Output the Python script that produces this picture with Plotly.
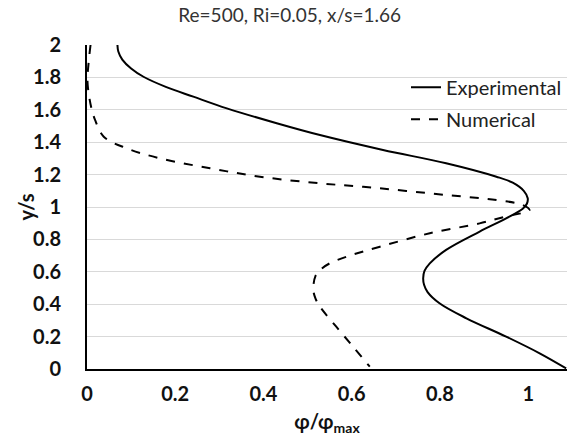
import plotly.graph_objects as go

# Experimental profile (solid)
exp_x = [0.069, 0.071, 0.080, 0.100, 0.128, 0.180, 0.241, 0.317, 0.430, 0.528, 0.671, 0.814,
         0.928, 0.965, 0.990, 0.999, 0.997, 0.987, 0.950, 0.890, 0.814, 0.777, 0.765, 0.762,
         0.764, 0.772, 0.799, 0.860, 0.950, 1.026, 1.086]
exp_y = [2.000, 1.960, 1.910, 1.855, 1.804, 1.740, 1.681, 1.609, 1.517, 1.444, 1.352, 1.270,
         1.187, 1.150, 1.100, 1.054, 1.020, 0.988, 0.930, 0.848, 0.735, 0.652, 0.605, 0.560,
         0.520, 0.475, 0.406, 0.313, 0.200, 0.097, 0.004]

# Numerical profile (dashed)
num_x = [0.008, 0.004, 0.001, 0.005, 0.011, 0.018, 0.038, 0.090, 0.166, 0.279, 0.392, 0.528,
         0.626, 0.814, 0.928, 0.988, 1.003, 0.985, 0.955, 0.890, 0.777, 0.664, 0.588, 0.550,
         0.530, 0.518, 0.513, 0.518, 0.528, 0.565, 0.603, 0.641]
num_y = [2.000, 1.900, 1.780, 1.680, 1.600, 1.540, 1.434, 1.362, 1.300, 1.239, 1.187, 1.146,
         1.125, 1.074, 1.043, 1.012, 0.981, 0.962, 0.945, 0.899, 0.838, 0.755, 0.693, 0.652,
         0.615, 0.575, 0.488, 0.435, 0.385, 0.261, 0.138, 0.014]

x_ticks = [0, 0.2, 0.4, 0.6, 0.8, 1]
y_ticks = [0, 0.2, 0.4, 0.6, 0.8, 1, 1.2, 1.4, 1.6, 1.8, 2]

fig = go.Figure()
fig.add_trace(go.Scatter(x=exp_x, y=exp_y, mode="lines", name="Experimental",
                         line=dict(color="black", width=2, shape="spline", smoothing=1.0),
                         legendgroup="a"))
fig.add_trace(go.Scatter(x=num_x, y=num_y, mode="lines", name="Numerical",
                         line=dict(color="black", width=2, dash="dash", shape="spline", smoothing=1.0),
                         legendgroup="b"))

fig.update_layout(
    width=568, height=445,
    margin=dict(l=87, r=1, t=45, b=76),
    paper_bgcolor="white", plot_bgcolor="white",
    font=dict(family="Lato", color="black"),
    title=dict(text="Re=500, Ri=0.05, x/s=1.66", x=0.51, xanchor="center", y=0.965, yanchor="middle",
               font=dict(family="Lato", size=19, color="#333333")),
    legend=dict(x=1.0, y=0.93, xanchor="right", yanchor="top", bgcolor="rgba(0,0,0,0)",
                font=dict(family="Lato", size=20, color="#222222"),
                traceorder="grouped", tracegroupgap=3, itemwidth=30),
    showlegend=True,
    annotations=[dict(text="<b>y/s</b>", textangle=-90, xref="paper", yref="paper",
                      x=-0.128, y=0.5, xanchor="center", yanchor="middle", showarrow=False,
                      font=dict(family="Lato", size=20, color="#111111"))],
)
fig.update_xaxes(range=[0, 1.088], tickvals=x_ticks, ticktext=[f"{v:g}" for v in x_ticks],
                 showgrid=False, zeroline=False, showline=True, linecolor="black", linewidth=2,
                 ticks="", ticklabelstandoff=6,
                 tickfont=dict(family="Lato", size=20, color="#111111", weight="bold"),
                 title=dict(text="<b>φ/φ<sub>max</sub></b>", standoff=11,
                            font=dict(family="Lato", size=20, color="#111111")))
fig.update_yaxes(range=[0, 2], tickvals=y_ticks, ticktext=[f"{v:g}" for v in y_ticks],
                 showgrid=True, gridcolor="#d9d9d9", gridwidth=1, zeroline=False,
                 showline=True, linecolor="black", linewidth=2,
                 ticks="", ticklabelstandoff=20,
                 tickfont=dict(family="Lato", size=20, color="#111111", weight="bold"))

fig.write_html("out.html")
